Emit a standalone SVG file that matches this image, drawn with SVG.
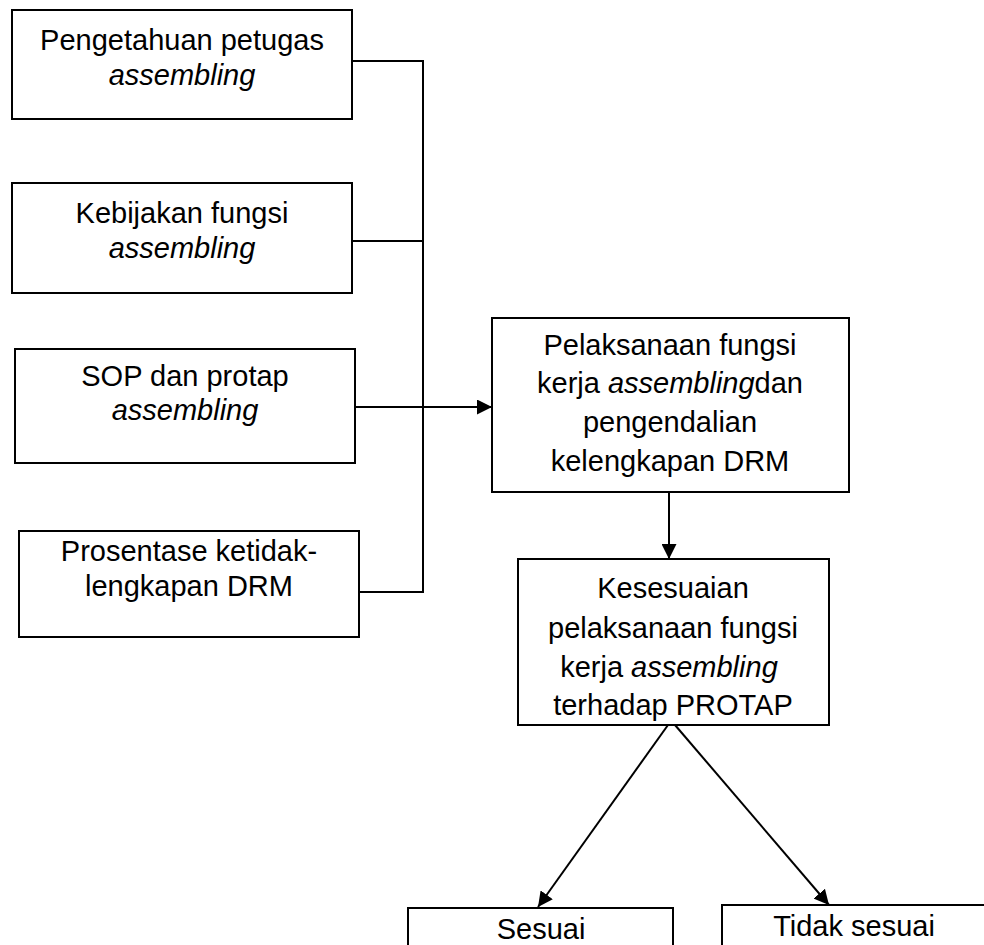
<svg xmlns="http://www.w3.org/2000/svg" width="984" height="945" viewBox="0 0 984 945">
<style>
.box{fill:#fff;stroke:#000;stroke-width:2}
.t{font-family:"Liberation Sans",Arial,sans-serif;font-size:29px;fill:#000;text-anchor:middle}
.i{font-style:italic}
.c{fill:none;stroke:#000;stroke-width:2}
</style>
<defs>
<marker id="arr" viewBox="0 0 15 15" refX="15" refY="7.5" markerWidth="15" markerHeight="15" markerUnits="userSpaceOnUse" orient="auto">
<path d="M0,0 L15,7.5 L0,15 z" fill="#000"/>
</marker>
</defs>
<rect width="984" height="945" fill="#fff"/>
<g id="connectors">
<polyline class="c" points="352,61 423,61 423,592 359,592"/>
<line class="c" x1="352" y1="241" x2="423" y2="241"/>
<line class="c" x1="355" y1="407" x2="492" y2="407" marker-end="url(#arr)"/>
<line class="c" x1="669" y1="492" x2="669" y2="559" marker-end="url(#arr)"/>
<line class="c" x1="668" y1="725" x2="538" y2="907" marker-end="url(#arr)"/>
<line class="c" x1="675" y1="725" x2="829" y2="905" marker-end="url(#arr)"/>
</g>
<g id="n1">
<rect class="box" x="12" y="10" width="340" height="109"/>
<text class="t" x="182" y="50">Pengetahuan petugas</text>
<text class="t i" x="182" y="85">assembling</text>
</g>
<g id="n2">
<rect class="box" x="12" y="183" width="340" height="110"/>
<text class="t" x="182" y="223">Kebijakan fungsi</text>
<text class="t i" x="182" y="258">assembling</text>
</g>
<g id="n3">
<rect class="box" x="15" y="349" width="340" height="114"/>
<text class="t" x="185" y="386">SOP dan protap</text>
<text class="t i" x="185" y="420">assembling</text>
</g>
<g id="n4">
<rect class="box" x="19" y="531" width="340" height="106"/>
<text class="t" x="189" y="561">Prosentase ketidak-</text>
<text class="t" x="189" y="596">lengkapan DRM</text>
</g>
<g id="n5">
<rect class="box" x="492" y="318" width="357" height="174"/>
<text class="t" x="670" y="355">Pelaksanaan fungsi</text>
<text class="t" x="670" y="393">kerja <tspan class="i">assembling</tspan>dan</text>
<text class="t" x="670" y="432">pengendalian</text>
<text class="t" x="670" y="471">kelengkapan DRM</text>
</g>
<g id="n6">
<rect class="box" x="518" y="559" width="311" height="166"/>
<text class="t" x="673" y="598">Kesesuaian</text>
<text class="t" x="673" y="638">pelaksanaan fungsi</text>
<text class="t" x="673" y="677">kerja <tspan class="i">assembling</tspan>&#160;</text>
<text class="t" x="673" y="715">terhadap PROTAP</text>
</g>
<g id="n7">
<rect class="box" x="408" y="908" width="265" height="60"/>
<text class="t" x="541" y="939">Sesuai</text>
</g>
<g id="n8">
<rect class="box" x="722" y="905" width="270" height="60"/>
<text class="t" x="854" y="936">Tidak sesuai</text>
</g>
</svg>
